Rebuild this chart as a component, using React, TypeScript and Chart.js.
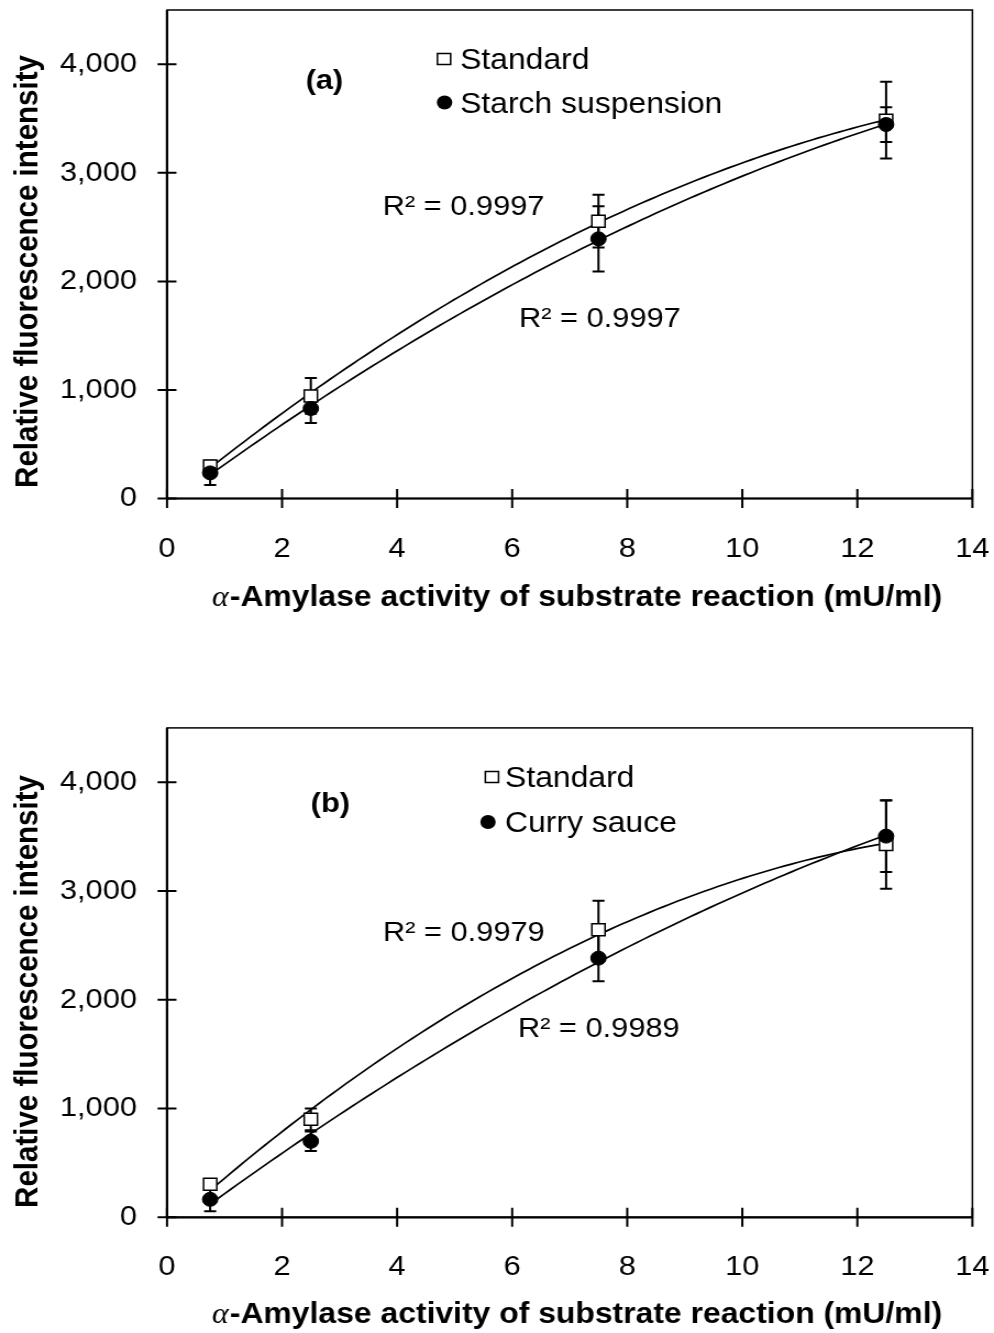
import React, { useEffect, useRef } from "react";
import { Chart, registerables } from "chart.js";
Chart.register(...registerables);

// ---------------- data ----------------
const xValues = [0.75, 2.5, 7.5, 12.5];
const xTicks = [0, 2, 4, 6, 8, 10, 12, 14];
const yTicks = [0, 1000, 2000, 3000, 4000];

const standardA = [300, 945, 2555, 3485];
const standardAErr = [30, 165, 243, 353];
const starchA = [236, 829, 2392, 3445];
const starchAErr = [112, 134, 300, 160];

const standardB = [303, 901, 2645, 3427];
const standardBErr = [25, 100, 265, 405];
const curryB = [165, 699, 2383, 3505];
const curryBErr = [110, 90, 212, 330];

const legendA = ["Standard", "Starch suspension"];
const legendB = ["Standard", "Curry sauce"];
const r2A = ["R\u00B2 = 0.9997", "R\u00B2 = 0.9997"];
const r2B = ["R\u00B2 = 0.9979", "R\u00B2 = 0.9989"];
const panelA = "(a)";
const panelB = "(b)";
const xTitleAlpha = "\u03B1";
const xTitleRest = "-Amylase activity of substrate reaction (mU/ml)";
const yTitle = "Relative fluorescence intensity";

// ---------------- layout ----------------
const CW = 904;
const SX = 994 / CW;
const SANS = "'Liberation Sans', Arial, Helvetica, sans-serif";
const SERIF = "'Liberation Serif', 'Times New Roman', serif";

function quadFit(xs: number[], ys: number[]) {
  let s0 = 0, s1 = 0, s2 = 0, s3 = 0, s4 = 0, t0 = 0, t1 = 0, t2 = 0;
  xs.forEach((x, i) => {
    const y = ys[i];
    s0 += 1; s1 += x; s2 += x * x; s3 += x ** 3; s4 += x ** 4;
    t0 += y; t1 += x * y; t2 += x * x * y;
  });
  const M = [[s0, s1, s2, t0], [s1, s2, s3, t1], [s2, s3, s4, t2]];
  for (let c = 0; c < 3; c++) {
    for (let r = c + 1; r < 3; r++) {
      const f = M[r][c] / M[c][c];
      for (let k = c; k < 4; k++) M[r][k] -= f * M[c][k];
    }
  }
  const coef = [0, 0, 0];
  for (let r = 2; r >= 0; r--) {
    let s = M[r][3];
    for (let k = r + 1; k < 3; k++) s -= M[r][k] * coef[k];
    coef[r] = s / M[r][r];
  }
  return coef;
}

function trend(xs: number[], ys: number[]) {
  const [a, b, c] = quadFit(xs, ys);
  const lo = Math.min(...xs), hi = Math.max(...xs), n = 100;
  const pts = [];
  for (let i = 0; i <= n; i++) {
    const x = lo + ((hi - lo) * i) / n;
    pts.push({ x, y: a + b * x + c * x * x });
  }
  return pts;
}

type Spec = {
  height: number;
  padTop: number;
  xAxisH: number;
  sq: number[]; sqErr: number[];
  ci: number[]; ciErr: number[];
  legend: string[]; r2: string[]; panel: string;
  legendSq: number[]; legendCirc: number[]; legendTextX: number; legendBase: number[];
  panelPos: number[];
  r2Pos: number[][];
  xTitleY: number; yTitleY: number;
};

const specA: Spec = {
  height: 666, padTop: 7.5, xAxisH: 666 - 498.5,
  sq: standardA, sqErr: standardAErr, ci: starchA, ciErr: starchAErr,
  legend: legendA, r2: r2A, panel: panelA,
  legendSq: [403.8, 59], legendCirc: [404.3, 102.5], legendTextX: 418.4, legendBase: [69, 113],
  panelPos: [295, 81],
  r2Pos: [[348, 215], [472, 327]],
  xTitleY: 598, yTitleY: 271.5,
};

const specB: Spec = {
  height: 667, padTop: 61.9, xAxisH: 667 - 551.3,
  sq: standardB, sqErr: standardBErr, ci: curryB, ciErr: curryBErr,
  legend: legendB, r2: r2B, panel: panelB,
  legendSq: [447.4, 111], legendCirc: [443.8, 156], legendTextX: 459.3, legendBase: [121, 166],
  panelPos: [300.5, 138],
  r2Pos: [[348.3, 275], [471, 371]],
  xTitleY: 649, yTitleY: 325.5,
};

function zeroPad(sc: any) {
  sc.paddingTop = 0;
  sc.paddingBottom = 0;
  sc.paddingLeft = 0;
  sc.paddingRight = 0;
}

function makeConfig(s: Spec): any {
  const decor = {
    id: "decor",
    beforeDatasetsDraw(chart: any) {
      const ctx = chart.ctx;
      const xs = chart.scales.x, ys = chart.scales.y;
      ctx.save();
      ctx.strokeStyle = "#000";
      ctx.lineWidth = 2;
      const bars = (vals: number[], errs: number[]) => {
        xValues.forEach((xv, i) => {
          const px = xs.getPixelForValue(xv);
          const y1 = ys.getPixelForValue(vals[i] + errs[i]);
          const y2 = ys.getPixelForValue(vals[i] - errs[i]);
          ctx.beginPath();
          ctx.moveTo(px, y1); ctx.lineTo(px, y2);
          ctx.moveTo(px - 5.5, y1); ctx.lineTo(px + 5.5, y1);
          ctx.moveTo(px - 5.5, y2); ctx.lineTo(px + 5.5, y2);
          ctx.stroke();
        });
      };
      bars(s.sq, s.sqErr);
      bars(s.ci, s.ciErr);
      ctx.restore();
    },
    afterDraw(chart: any) {
      const ctx = chart.ctx;
      const { left, right, top, bottom } = chart.chartArea;
      const xs = chart.scales.x, ys = chart.scales.y;
      ctx.save();
      ctx.strokeStyle = "#000";
      // frame
      ctx.lineWidth = 1.5;
      ctx.strokeRect(left, top, right - left, bottom - top);
      // axes
      ctx.lineWidth = 2.2;
      ctx.beginPath();
      ctx.moveTo(left, top); ctx.lineTo(left, bottom);
      ctx.moveTo(left, bottom); ctx.lineTo(right, bottom);
      ctx.stroke();
      // ticks crossing axes
      ctx.lineWidth = 2;
      ctx.beginPath();
      xTicks.forEach((v) => {
        const px = xs.getPixelForValue(v);
        ctx.moveTo(px, bottom - 9.5); ctx.lineTo(px, bottom + 9.5);
      });
      yTicks.forEach((v) => {
        const py = ys.getPixelForValue(v);
        ctx.moveTo(left - 8.6, py); ctx.lineTo(left + 8.6, py);
      });
      ctx.stroke();

      // legend
      ctx.lineWidth = 1.5;
      ctx.fillStyle = "#fff";
      ctx.fillRect(s.legendSq[0] - 6, s.legendSq[1] - 5.5, 12, 11);
      ctx.strokeRect(s.legendSq[0] - 6, s.legendSq[1] - 5.5, 12, 11);
      ctx.fillStyle = "#000";
      ctx.beginPath();
      ctx.arc(s.legendCirc[0], s.legendCirc[1], 7, 0, Math.PI * 2);
      ctx.fill();
      ctx.font = `29px ${SANS}`;
      ctx.textAlign = "left";
      ctx.textBaseline = "alphabetic";
      ctx.fillText(s.legend[0], s.legendTextX, s.legendBase[0]);
      ctx.fillText(s.legend[1], s.legendTextX, s.legendBase[1]);
      // R2 labels
      ctx.font = `28px ${SANS}`;
      s.r2.forEach((t, i) => ctx.fillText(t, s.r2Pos[i][0], s.r2Pos[i][1]));
      // panel label
      ctx.font = `bold 28px ${SANS}`;
      ctx.textAlign = "center";
      ctx.textBaseline = "middle";
      ctx.fillText(s.panel, s.panelPos[0], s.panelPos[1]);
      // x title
      ctx.font = `italic 29px ${SERIF}`;
      const wA = ctx.measureText(xTitleAlpha).width;
      ctx.font = `bold 29px ${SANS}`;
      const wR = ctx.measureText(xTitleRest).width;
      const cx = 576.5 / SX;
      const start = cx - (wA + wR) / 2;
      ctx.textAlign = "left";
      ctx.font = `italic 29px ${SERIF}`;
      ctx.fillText(xTitleAlpha, start, s.xTitleY);
      ctx.font = `bold 29px ${SANS}`;
      ctx.fillText(xTitleRest, start + wA + 1, s.xTitleY);
      // y title
      ctx.font = `bold 29.5px ${SANS}`;
      ctx.translate(28 / SX, s.yTitleY);
      ctx.rotate(-Math.PI / 2);
      ctx.textAlign = "center";
      ctx.fillText(yTitle, 0, 0);
      ctx.restore();
    },
  };

  return {
    type: "scatter",
    data: {
      datasets: [
        {
          label: s.legend[1],
          data: xValues.map((x, i) => ({ x, y: s.ci[i] })),
          pointStyle: "circle", pointRadius: 7, pointHoverRadius: 7,
          backgroundColor: "#000", borderColor: "#000", borderWidth: 1,
          order: 0,
        },
        {
          label: s.legend[0],
          data: xValues.map((x, i) => ({ x, y: s.sq[i] })),
          pointStyle: "rect", pointRadius: 8.5, pointHoverRadius: 8.5,
          backgroundColor: "#fff", borderColor: "#000", borderWidth: 1.5,
          order: 1,
        },
        {
          label: "trend " + s.legend[0],
          data: trend(xValues, s.sq),
          showLine: true, pointRadius: 0, borderColor: "#000", borderWidth: 1.7,
          order: 2,
        },
        {
          label: "trend " + s.legend[1],
          data: trend(xValues, s.ci),
          showLine: true, pointRadius: 0, borderColor: "#000", borderWidth: 1.7,
          order: 3,
        },
      ],
    },
    options: {
      responsive: false,
      devicePixelRatio: 1,
      animation: false,
      events: [],
      layout: { padding: { top: s.padTop, right: (994 - 972.4) / SX, left: 0, bottom: 0 } },
      plugins: { legend: { display: false }, tooltip: { enabled: false } },
      scales: {
        x: {
          type: "linear", min: 0, max: 14,
          afterBuildTicks: (sc: any) => { sc.ticks = xTicks.map((v) => ({ value: v })); },
          afterFit: (sc: any) => { sc.height = s.xAxisH; zeroPad(sc); },
          grid: { display: false, drawTicks: false },
          border: { display: false },
          ticks: {
            color: "#000", font: { size: 28, family: SANS }, padding: 33.5,
            maxRotation: 0, autoSkip: false,
            callback: (v: any) => String(v),
          },
        },
        y: {
          type: "linear", min: 0, max: 4500,
          afterBuildTicks: (sc: any) => { sc.ticks = yTicks.map((v) => ({ value: v })); },
          afterFit: (sc: any) => { sc.width = 167 / SX; zeroPad(sc); },
          grid: { display: false, drawTicks: false },
          border: { display: false },
          ticks: {
            color: "#000", font: { size: 28, family: SANS }, padding: 27.3,
            callback: (v: any) => Number(v).toLocaleString("en-US"),
          },
        },
      },
    },
    plugins: [decor],
  };
}

export default function App() {
  const refA = useRef<HTMLCanvasElement>(null);
  const refB = useRef<HTMLCanvasElement>(null);
  useEffect(() => {
    const a = new Chart(refA.current as HTMLCanvasElement, makeConfig(specA));
    const b = new Chart(refB.current as HTMLCanvasElement, makeConfig(specB));
    return () => { a.destroy(); b.destroy(); };
  }, []);
  return (
    <div style={{ position: "relative", width: 994, height: 1333, background: "#fff" }}>
      <style>{`html,body{margin:0;padding:0;background:#fff;}`}</style>
      <canvas ref={refA} width={CW} height={666}
        style={{ position: "absolute", left: 0, top: 0, width: "994px", height: "666px" }} />
      <canvas ref={refB} width={CW} height={667}
        style={{ position: "absolute", left: 0, top: "666px", width: "994px", height: "667px" }} />
    </div>
  );
}
